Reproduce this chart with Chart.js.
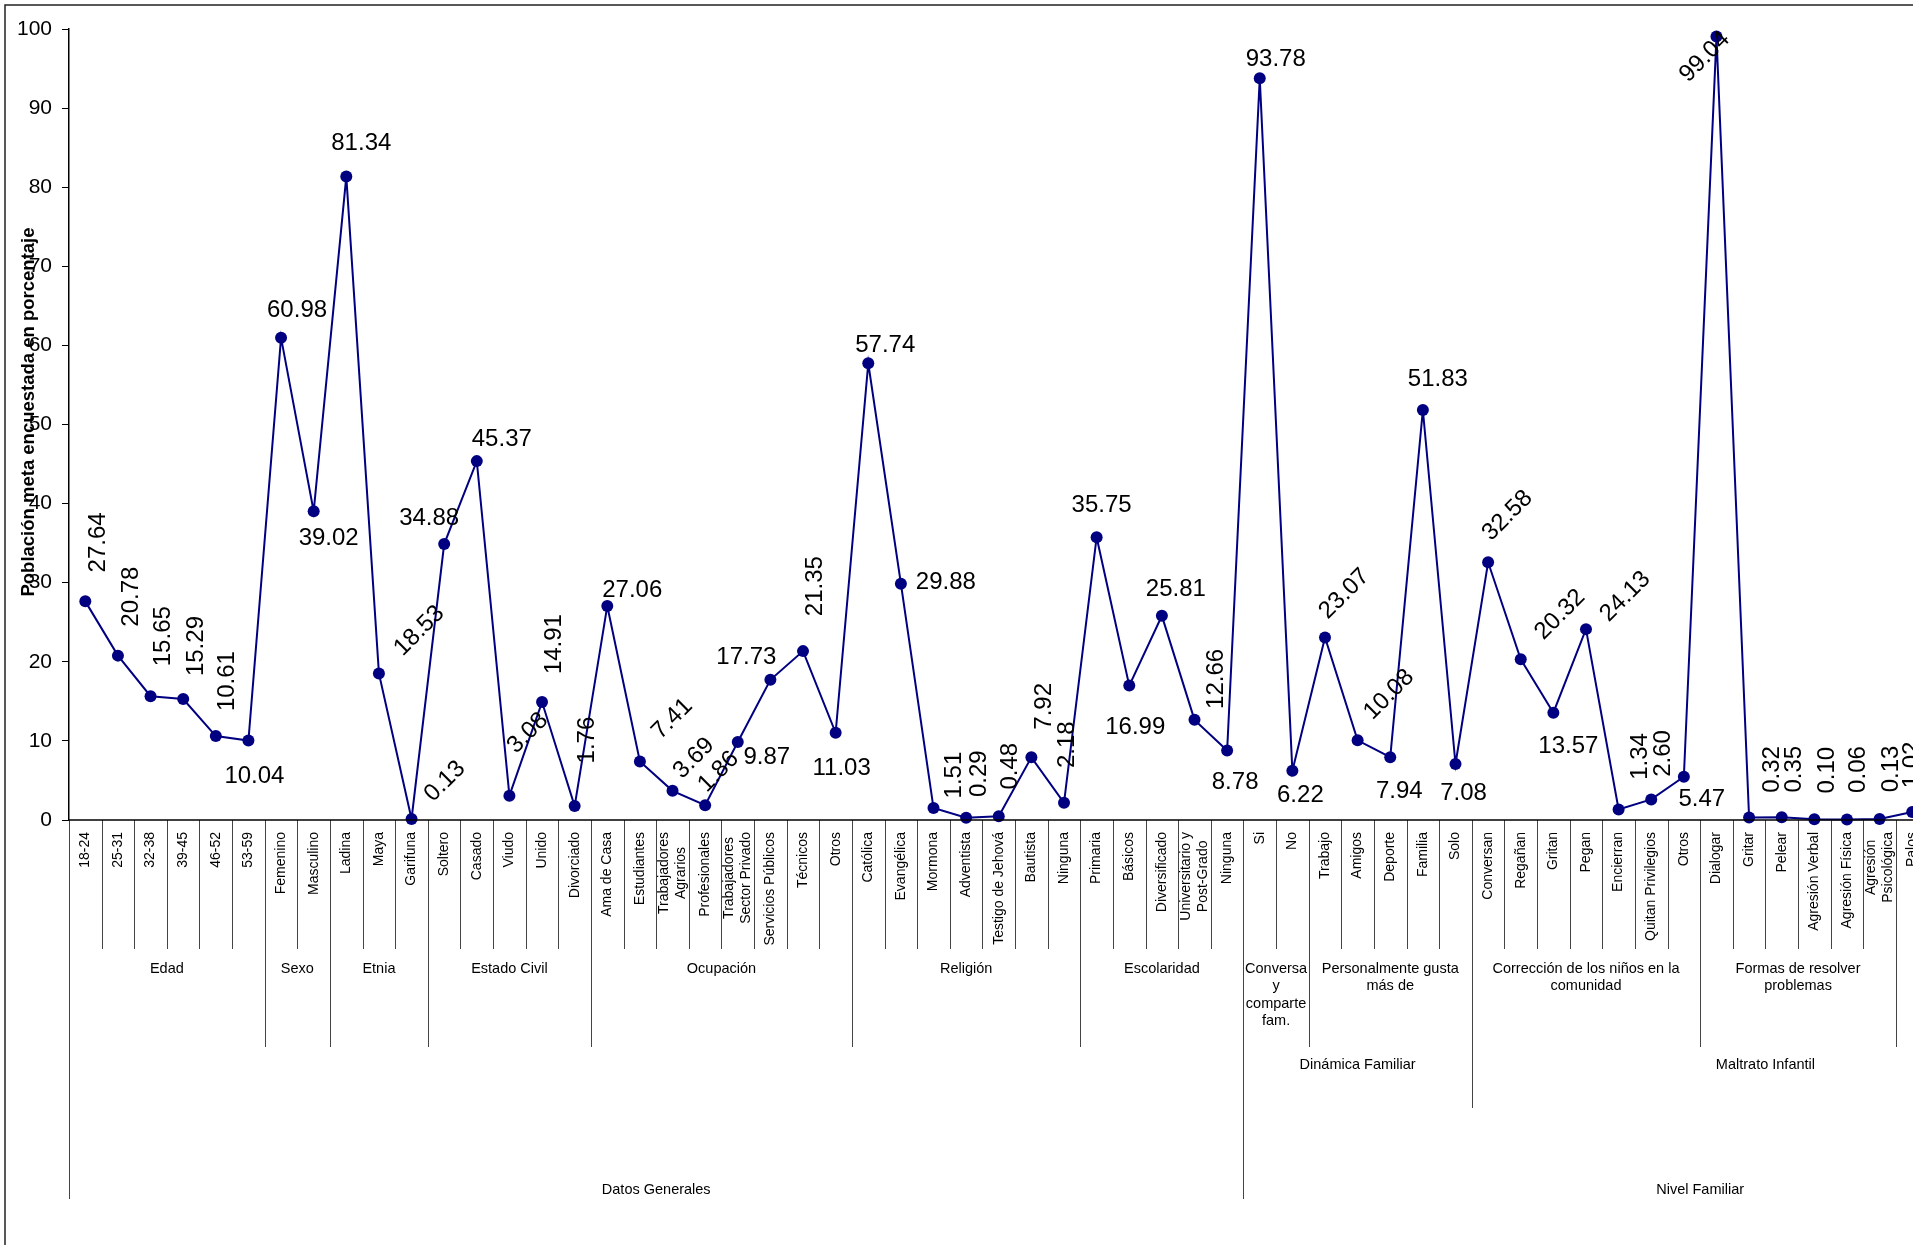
<!DOCTYPE html>
<html>
<head>
<meta charset="utf-8">
<script src="https://cdn.jsdelivr.net/npm/chart.js@4.4.0/dist/chart.umd.min.js"></script>
<style>
  html, body { margin: 0; padding: 0; overflow: hidden; background: #fff; width: 1913px; height: 1245px; }
  canvas { display: block; }
</style>
</head>
<body>
<canvas id="chart" width="2100" height="1300"></canvas>
<script>
// categories (first level of the axis), "\n" marks a line break
const categories = [
  '18-24', '25-31', '32-38', '39-45', '46-52', '53-59',
  'Femenino', 'Masculino',
  'Ladina', 'Maya', 'Garifuna',
  'Soltero', 'Casado', 'Viudo', 'Unido', 'Divorciado',
  'Ama de Casa', 'Estudiantes', 'Trabajadores\nAgrarios', 'Profesionales',
  'Trabajadores\nSector Privado', 'Servicios Públicos', 'Técnicos', 'Otros',
  'Católica', 'Evangélica', 'Mormona', 'Adventista', 'Testigo de Jehová', 'Bautista', 'Ninguna',
  'Primaria', 'Básicos', 'Diversificado', 'Universitario y\nPost-Grado', 'Ninguna',
  'Si', 'No',
  'Trabajo', 'Amigos', 'Deporte', 'Familia', 'Solo',
  'Conversan', 'Regañan', 'Gritan', 'Pegan', 'Encierran', 'Quitan Privilegios', 'Otros',
  'Dialogar', 'Gritar', 'Pelear', 'Agresión Verbal', 'Agresión Física', 'Agresión\nPsicológica',
  'Palos'
];

const values = [
  27.64, 20.78, 15.65, 15.29, 10.61, 10.04,
  60.98, 39.02,
  81.34, 18.53, 0.13,
  34.88, 45.37, 3.08, 14.91, 1.76,
  27.06, 7.41, 3.69, 1.86, 9.87, 17.73, 21.35, 11.03,
  57.74, 29.88, 1.51, 0.29, 0.48, 7.92, 2.18,
  35.75, 16.99, 25.81, 12.66, 8.78,
  93.78, 6.22,
  23.07, 10.08, 7.94, 51.83, 7.08,
  32.58, 20.32, 13.57, 24.13, 1.34, 2.60, 5.47,
  99.04, 0.32, 0.35, 0.10, 0.06, 0.13,
  1.02
];

// axis grouping levels: [name, number of categories]
const groups2 = [
  ['Edad', 6], ['Sexo', 2], ['Etnia', 3], ['Estado Civil', 5], ['Ocupación', 8],
  ['Religión', 7], ['Escolaridad', 5],
  ['Conversa\ny\ncomparte\nfam.', 2], ['Personalmente gusta\nmás de', 5],
  ['Corrección de los niños en la\ncomunidad', 7], ['Formas de resolver\nproblemas', 6],
  ['Medios de castigo', 5]
];
const groups3 = [['', 36], ['Dinámica Familiar', 7], ['Maltrato Infantil', 18]];
const groups4 = [['Datos Generales', 36], ['Nivel Familiar', 28]];

const yTicks = [0, 10, 20, 30, 40, 50, 60, 70, 80, 90, 100];

// data label placement: [rotation in degrees, dx, dy] relative to the point
const labelPlace = [
  [-90, 11, -59], [-90, 11, -59], [-90, 11, -60], [-90, 11, -53], [-90, 10, -55], [0, 6, 34],
  [0, 16, -29], [0, 15, 25],
  [0, 15, -35], [-45, 39, -44], [-45, 32, -39],
  [0, -15, -28], [0, 25, -24], [-45, 17, -64], [-90, 10, -58], [-90, 11, -66],
  [0, 25, -18], [-45, 31, -44], [-45, 20, -34], [-45, 12, -35], [0, 29, 13], [0, -24, -24], [-90, 10, -65], [0, 6, 34],
  [0, 17, -20], [0, 45, -3], [-90, 19, -33], [-90, 11, -44], [-90, 10, -50], [-90, 11, -51], [-90, 1, -58],
  [0, 5, -34], [0, 6, 40], [0, 14, -28], [-90, 20, -41], [0, 8, 30],
  [0, 16, -21], [0, 8, 23],
  [-45, 18, -45], [-45, 30, -47], [0, 9, 32], [0, 15, -33], [0, 8, 27],
  [-45, 18, -48], [-45, 38, -46], [0, 15, 32], [-45, 38, -34], [-90, 20, -53], [-90, 10, -46], [0, 18, 21],
  [-45, -13, 19], [-90, 21, -48], [-90, 11, -48], [-90, 11, -49], [-90, 9, -50], [-90, 10, -50],
  [-90, -2, -47]
];

const FONT = '"Liberation Sans", Arial, sans-serif';
const NAVY = '#000080';
const CANVAS_W = 2100, CANVAS_H = 1300;
const SLOT = 32.72;          // width of one category
const AXIS_W = 69;           // y axis box width
const X_MAX = -0.5 + (CANVAS_W - AXIS_W) / SLOT;

function boundaries(groups) {
  const out = [0];
  let acc = 0;
  groups.forEach(g => { acc += g[1]; out.push(acc); });
  return out;
}

const axisPlugin = {
  id: 'multiAxis',
  afterDraw(chart) {
    const ctx = chart.ctx;
    const x = chart.scales.x, y = chart.scales.y;
    const y0 = y.getPixelForValue(0);
    const bx = b => x.getPixelForValue(b - 0.5);

    ctx.save();
    // outer frame
    ctx.strokeStyle = '#222';
    ctx.lineWidth = 1.5;
    ctx.beginPath();
    ctx.moveTo(5, CANVAS_H);
    ctx.lineTo(5, 5);
    ctx.lineTo(CANVAS_W, 5);
    ctx.stroke();

    // separators, deeper for higher grouping levels
    const depth = {};
    for (let b = 0; b <= 64; b++) depth[b] = 949;
    boundaries(groups2).forEach(b => depth[b] = 1047);
    boundaries(groups3).forEach(b => depth[b] = 1108);
    boundaries(groups4).forEach(b => depth[b] = 1199);
    ctx.strokeStyle = '#444';
    ctx.lineWidth = 1;
    Object.keys(depth).forEach(k => {
      const px = Math.round(bx(+k)) + 0.5;
      ctx.beginPath();
      ctx.moveTo(px, y0);
      ctx.lineTo(px, depth[k]);
      ctx.stroke();
    });

    // category axis line
    ctx.strokeStyle = '#000';
    ctx.lineWidth = 1.5;
    ctx.beginPath();
    ctx.moveTo(chart.chartArea.left, y0);
    ctx.lineTo(CANVAS_W, y0);
    ctx.stroke();

    // category labels (rotated)
    ctx.fillStyle = '#000';
    ctx.font = '14px ' + FONT;
    ctx.textAlign = 'center';
    ctx.textBaseline = 'middle';
    categories.forEach((c, i) => {
      const lines = c.split('\n');
      const maxW = Math.max(...lines.map(l => ctx.measureText(l).width));
      const cx = x.getPixelForValue(i);
      ctx.save();
      ctx.translate(cx, y0 + 12);
      ctx.rotate(-Math.PI / 2);
      lines.forEach((l, k) => {
        ctx.fillText(l, -maxW / 2, (k - (lines.length - 1) / 2) * 16.5);
      });
      ctx.restore();
    });

    // group labels
    ctx.font = '14.5px ' + FONT;
    const drawGroups = (groups, top) => {
      let start = 0;
      groups.forEach(([name, n]) => {
        const cx = (bx(start) + bx(start + n)) / 2;
        name.split('\n').forEach((l, k) => ctx.fillText(l, cx, top + k * 17.3));
        start += n;
      });
    };
    drawGroups(groups2, 969);
    drawGroups(groups3, 1065);
    drawGroups(groups4, 1190);

    // y axis title
    ctx.save();
    ctx.font = 'bold 18.5px ' + FONT;
    ctx.translate(29, 412);
    ctx.rotate(-Math.PI / 2);
    ctx.fillText('Población meta encuestada en porcentaje', 0, 0);
    ctx.restore();

    // data labels
    ctx.font = '24px ' + FONT;
    ctx.textBaseline = 'alphabetic';
    values.forEach((v, i) => {
      const [rot, dx, dy] = labelPlace[i];
      const px = x.getPixelForValue(i), py = y.getPixelForValue(v);
      ctx.save();
      ctx.translate(px + dx, py + dy);
      ctx.rotate(rot * Math.PI / 180);
      ctx.fillText(v.toFixed(2), 0, 24 * 0.358);
      ctx.restore();
    });
    ctx.restore();
  }
};

new Chart(document.getElementById('chart'), {
  type: 'line',
  data: {
    datasets: [{
      data: values.map((v, i) => ({ x: i, y: v })),
      borderColor: NAVY,
      borderWidth: 2,
      backgroundColor: NAVY,
      pointBackgroundColor: NAVY,
      pointBorderWidth: 0,
      pointRadius: 6,
      tension: 0,
      clip: false
    }]
  },
  options: {
    responsive: false,
    animation: false,
    devicePixelRatio: 1,
    layout: { padding: { top: 29, left: 0, right: 0, bottom: CANVAS_H - 820 } },
    plugins: { legend: { display: false }, tooltip: { enabled: false } },
    scales: {
      x: { type: 'linear', min: -0.5, max: X_MAX, display: false },
      y: {
        min: 0,
        max: 100,
        afterFit: s => { s.width = AXIS_W; },
        afterBuildTicks: s => { s.ticks = yTicks.map(v => ({ value: v })); },
        ticks: { color: '#000', padding: 10, font: { family: FONT, size: 21 } },
        grid: { drawOnChartArea: false, drawTicks: true, tickLength: 7, color: '#000' },
        border: { display: true, color: '#000', width: 1.5 }
      }
    }
  },
  plugins: [axisPlugin]
});
</script>
</body>
</html>
